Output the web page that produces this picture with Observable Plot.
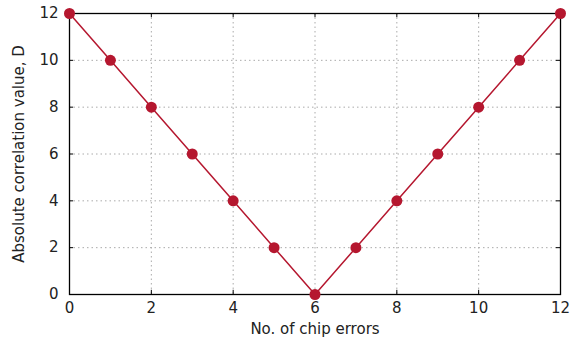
<!DOCTYPE html>
<html><head><meta charset="utf-8">
<script src="https://cdn.jsdelivr.net/npm/d3@7"></script>
<script src="https://cdn.jsdelivr.net/npm/@observablehq/plot@0.6"></script>
<style>body{margin:0;background:#fff;} svg{font-family:"DejaVu Sans",sans-serif;}</style>
</head><body><div id="chart"></div>
<script>
const errors = [0,1,2,3,4,5,6,7,8,9,10,11,12];
const corr = [12,10,8,6,4,2,0,2,4,6,8,10,12];
const xTicks = [0,2,4,6,8,10,12];
const yTicks = [0,2,4,6,8,10,12];
const data = errors.map((e,i)=>({x:e,y:corr[i]}));
const inner = [2,4,6,8,10];
const red = "#b5172f";
const chart = Plot.plot({
  width: 571, height: 341,
  marginLeft: 69, marginRight: 11, marginTop: 13, marginBottom: 47,
  style: {fontSize: "15px", fontFamily: "DejaVu Sans, sans-serif", color: "#222"},
  x: {domain: [0,12], ticks: xTicks, label: null},
  y: {domain: [0,12], ticks: yTicks, label: null},
  marks: [
    Plot.ruleX(inner, {stroke: "#aaa", strokeDasharray: "1.5,3", strokeWidth: 1}),
    Plot.ruleY(inner, {stroke: "#aaa", strokeDasharray: "1.5,3", strokeWidth: 1}),
    Plot.ruleX(inner, {y1: 0, y2: 0.18, stroke: "#000"}),
    Plot.ruleX(inner, {y1: 12, y2: 11.82, stroke: "#000"}),
    Plot.ruleY(inner, {x1: 0, x2: 0.1, stroke: "#000"}),
    Plot.ruleY(inner, {x1: 12, x2: 11.9, stroke: "#000"}),
    Plot.frame({stroke: "#000", strokeWidth: 1.3}),
    Plot.axisX(xTicks, {tickSize: 0, tickPadding: 8, fontSize: 15}),
    Plot.axisY(yTicks, {tickSize: 0, tickPadding: 11, fontSize: 15}),
    Plot.line(data, {x: "x", y: "y", stroke: red, strokeWidth: 1.5}),
    Plot.dot(data, {x: "x", y: "y", fill: red, r: 5.5}),
    Plot.text(["No. of chip errors"], {frameAnchor: "bottom", dy: 39, fontSize: 15, fill: "#222"}),
    Plot.text(["Absolute correlation value, D"], {frameAnchor: "left", textAnchor: "middle", dx: -50, rotate: -90, fontSize: 15, fill: "#222"})
  ]
});
document.getElementById("chart").appendChild(chart);
</script></body></html>
